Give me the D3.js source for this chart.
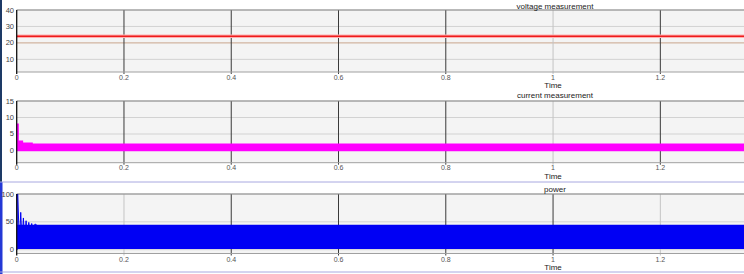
<!DOCTYPE html>
<html><head><meta charset="utf-8">
<script src="https://cdn.jsdelivr.net/npm/d3@7"></script>
<style>html,body{margin:0;padding:0;background:#fff;}svg{display:block;}</style>
</head><body>
<svg id="c" width="744" height="274"></svg>
<script>
// ---- data ----
const xTicks = [0, 0.2, 0.4, 0.6, 0.8, 1, 1.2];
const xLabel = "Time";

const voltageTitle = "voltage measurement";
const voltageTicks = [10, 20, 30, 40];
const voltageT = [0, 1.36];
const voltageV = [24, 24];

const currentTitle = "current measurement";
const currentTicks = [0, 5, 10, 15];
const currentT    = [0, 0.004, 0.012, 0.03, 1.36];
const currentHigh = [8.2, 3.0, 2.4, 2.1, 2.1];
const currentLow  = [-0.2, -0.2, -0.2, -0.2, -0.2];

const powerTitle = "power";
const powerTicks = [0, 50, 100];
const powerT    = [0, 0.002, 1.36];
const powerHigh = [100, 45, 45];
const powerLow  = [0, 1.5, 1.5];
const powerPeakT = [0.002, 0.005, 0.0075, 0.010, 0.0125, 0.015, 0.0175, 0.020, 0.0225, 0.025, 0.028, 0.031, 0.034, 0.037];
const powerPeakV = [100, 8, 67, 12, 57, 15, 52, 20, 49, 25, 47, 30, 46, 45];

// ---- layout / style ----
const svg = d3.select("#c");
const W = 744;
const x = d3.scaleLinear().domain([0, 1.356]).range([16.7, 744]);
const font = "'Liberation Sans', Arial, sans-serif";

// separators and left strips
svg.append("rect").attr("x",0).attr("y",0).attr("width",2).attr("height",182).attr("fill","#1d3a66");
svg.append("rect").attr("x",0).attr("y",182).attr("width",2.5).attr("height",92).attr("fill","#2438d6");
svg.append("line").attr("x1",0).attr("x2",W).attr("y1",182).attr("y2",182).attr("stroke","#a8a8e0").attr("stroke-width",1);
svg.append("line").attr("x1",0).attr("x2",W).attr("y1",272).attr("y2",272).attr("stroke","#a8a8e0").attr("stroke-width",1);

const panels = [
  {title: voltageTitle, ticks: voltageTicks, domain:[2.3,40], top:10, bottom:72, titleY:8.5, labY:80, timeY:88,
   lightX:[1], gridColor:{20:"#c9a58c"}},
  {title: currentTitle, ticks: currentTicks, domain:[-3.7,15], top:101, bottom:162.7, titleY:98, labY:170.3, timeY:178.5,
   lightX:[1], gridColor:{}},
  {title: powerTitle, ticks: powerTicks, domain:[-6.8,100], top:194, bottom:253.5, titleY:192, labY:262, timeY:270,
   lightX:[0.2,1.2], gridColor:{}}
];

panels.forEach((p, i) => {
  const g = svg.append("g");
  const y = d3.scaleLinear().domain(p.domain).range([p.bottom, p.top]);
  p.y = y;
  g.append("rect").attr("x", x(0)).attr("y", p.top).attr("width", W - x(0)).attr("height", p.bottom - p.top).attr("fill", "#f4f4f4");
  // horizontal grid
  g.selectAll(".hg").data(p.ticks).join("line")
    .attr("x1", x(0)).attr("x2", W).attr("y1", d => y(d)).attr("y2", d => y(d))
    .attr("stroke", d => p.gridColor[d] || "#d2d2d2").attr("stroke-width", 1);
  // vertical grid
  g.selectAll(".vg").data(xTicks.slice(1)).join("line")
    .attr("x1", d => x(d)).attr("x2", d => x(d)).attr("y1", p.top).attr("y2", p.bottom + 2)
    .attr("stroke", d => p.lightX.includes(d) ? "#c4c4c4" : "#3a3a3a").attr("stroke-width", 1);
  // borders
  g.append("line").attr("x1", x(0)).attr("x2", W).attr("y1", p.top).attr("y2", p.top).attr("stroke", "#8a8a8a").attr("stroke-width", 1.2);
  g.append("line").attr("x1", x(0)).attr("x2", W).attr("y1", p.bottom).attr("y2", p.bottom).attr("stroke", "#a0a0a0").attr("stroke-width", 1);
  // y tick labels
  g.selectAll(".yl").data(p.ticks).join("text")
    .attr("x", 14).attr("y", d => y(d) + 2.5).attr("text-anchor", "end")
    .attr("font-family", font).attr("font-size", 7.5).attr("fill", "#444").text(d => d);
  // x tick labels
  g.selectAll(".xl").data(xTicks).join("text")
    .attr("x", d => x(d)).attr("y", p.labY).attr("text-anchor", "middle")
    .attr("font-family", font).attr("font-size", 7).attr("fill", "#555").text(d => d);
  g.append("text").attr("x", x(1)).attr("y", p.timeY).attr("text-anchor", "middle")
    .attr("font-family", font).attr("font-size", 8).attr("fill", "#222").text(xLabel);
  g.append("text").attr("x", 555).attr("y", p.titleY).attr("text-anchor", "middle")
    .attr("font-family", font).attr("font-size", 8).attr("fill", "#222").text(p.title);
  p.g = g;
});

// voltage
{
  const p = panels[0];
  const data = voltageT.map((t, i) => [t, voltageV[i]]);
  const line = d3.line().x(d => x(d[0])).y(d => p.y(d[1]));
  p.g.append("path").attr("d", line(data)).attr("fill", "none").attr("stroke", "#ffb0b0").attr("stroke-width", 3.5);
  p.g.append("path").attr("d", line(data)).attr("fill", "none").attr("stroke", "#ee1c1c").attr("stroke-width", 1.6);
}
// current
{
  const p = panels[1];
  const data = currentT.map((t, i) => ({t, h: currentHigh[i], l: currentLow[i]}));
  const area = d3.area().curve(d3.curveStepAfter).x(d => x(d.t)).y0(d => p.y(d.l)).y1(d => p.y(d.h));
  p.g.append("path").attr("d", area(data)).attr("fill", "#ff00ff");
}
// power
{
  const p = panels[2];
  const data = powerT.map((t, i) => ({t, h: powerHigh[i], l: powerLow[i]}));
  const area = d3.area().curve(d3.curveStepAfter).x(d => x(d.t)).y0(d => p.y(d.l)).y1(d => p.y(d.h));
  p.g.append("path").attr("d", area(data)).attr("fill", "#0000f4");
  const peaks = powerPeakT.map((t, i) => [t, powerPeakV[i]]);
  p.g.append("path").attr("d", d3.line().x(d => x(d[0])).y(d => p.y(d[1]))(peaks))
    .attr("fill", "none").attr("stroke", "#0000f4").attr("stroke-width", 1);
}

// left axes on top
panels.forEach(p => {
  p.g.append("line").attr("x1", x(0)).attr("x2", x(0)).attr("y1", p.top).attr("y2", p.bottom + 2)
    .attr("stroke", "#111").attr("stroke-width", 1.3);
});
</script>
</body></html>
